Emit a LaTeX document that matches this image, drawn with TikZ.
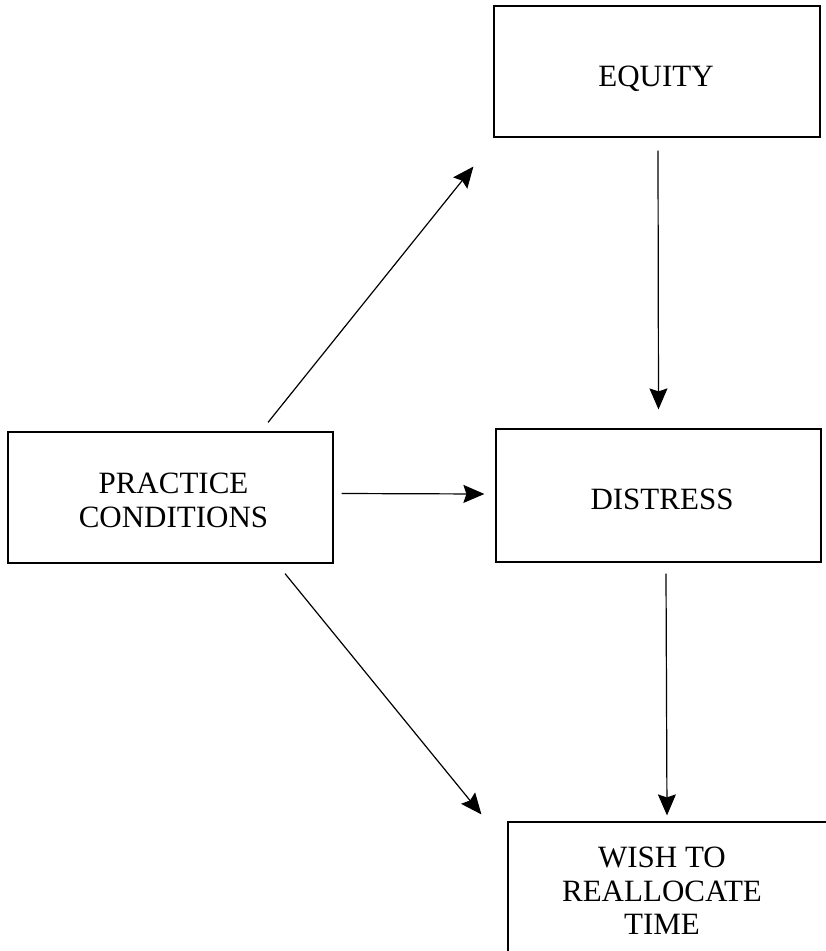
\documentclass[tikz,border=0pt]{standalone}
\usepackage{fontspec}
\setmainfont{Liberation Serif}
\usetikzlibrary{arrows.meta}
\begin{document}
\begin{tikzpicture}[x=1pt,y=1pt,
  box/.style={draw=black,line width=1.2pt,rectangle,inner sep=0pt},
  txt/.style={align=center,inner sep=0pt,font=\fontsize{31}{33.5}\selectfont},
  arr/.style={draw=black,line width=1.2pt,-{Stealth[length=21pt,width=18pt,inset=3pt]}}]
\useasboundingbox (0,0) rectangle (826,-951);

% boxes
\node[box,minimum width=326pt,minimum height=131pt] (eq)   at (657,-71.5)    {};
\node[box,minimum width=325pt,minimum height=131pt] (pc)   at (170.5,-497.5) {};
\node[box,minimum width=325pt,minimum height=133pt] (dis)  at (658.5,-495.5) {};
\node[box,minimum width=322pt,minimum height=140pt] (wish) at (669,-892)     {};

% labels
\node[txt,text height=29pt,text depth=0pt] (eqtext) at ([shift={(-1,0)}]eq.center) {EQUITY};
\node[txt,text height=28pt,text depth=0pt] (distext) at ([shift={(3.5,0)}]dis.center) {DISTRESS};
\node[txt] (pctext) at ([shift={(3,-3)}]pc.center) {PRACTICE\\CONDITIONS};
\node[txt] (wishtext) at ([shift={(-7,1)}]wish.center) {WISH TO\\REALLOCATE\\TIME};

% connectors
\draw[arr] ([shift={(97.5,9)}]pc.north)   -- ([shift={(-20,-29)}]eq.south west);
\draw[arr] ([shift={(1,-13)}]eq.south)    -- ([shift={(0,19)}]dis.north);
\draw[arr] ([shift={(8,4)}]pc.east)       -- ([shift={(-11,1.5)}]dis.west);
\draw[arr] ([shift={(7.5,-11)}]dis.south) -- ([shift={(-2,6)}]wish.north);
\draw[arr] ([shift={(114.5,-10)}]pc.south) -- ([shift={(-26,7)}]wish.north west);
\end{tikzpicture}
\end{document}
